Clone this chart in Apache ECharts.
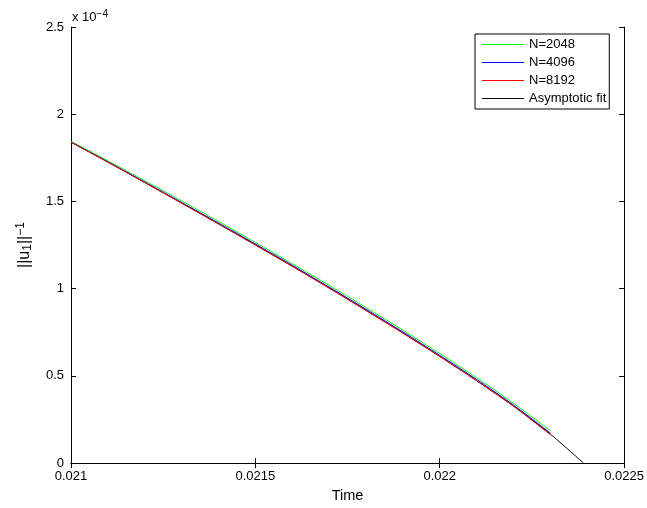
<!DOCTYPE html>
<html>
<head>
<meta charset="utf-8">
<script src="https://cdn.jsdelivr.net/npm/echarts@6/dist/echarts.min.js"></script>
<style>
  html, body { margin: 0; padding: 0; background: #fff; }
  #chart { width: 647px; height: 508px; }
</style>
</head>
<body>
<div id="chart"></div>
<script>
// Simulation times
const times = [0.0210, 0.0211, 0.0212, 0.0213, 0.0214, 0.0215, 0.0216,
               0.0217, 0.0218, 0.0219, 0.0220, 0.0221, 0.0222, 0.0223];
// ||u_1||^-1 in units of 1e-4
const n2048 = [1.845, 1.733, 1.619, 1.503, 1.385, 1.265, 1.143,
               1.019, 0.892, 0.762, 0.628, 0.489, 0.343, 0.186];
const n4096 = [1.840, 1.727, 1.611, 1.494, 1.376, 1.256, 1.134,
               1.009, 0.882, 0.752, 0.618, 0.479, 0.333, 0.172];
const n8192 = [1.840, 1.725, 1.608, 1.490, 1.371, 1.250, 1.128,
               1.003, 0.875, 0.745, 0.611, 0.472, 0.326, 0.163];
// Asymptotic fit, reaching zero at the blow-up time
const fitTimes = [0.0210, 0.0211, 0.0212, 0.0213, 0.0214, 0.0215, 0.0216,
                  0.0217, 0.0218, 0.0219, 0.0220, 0.0221, 0.0222, 0.0223, 0.02239];
const fitVals = [1.840, 1.726, 1.609, 1.491, 1.372, 1.251, 1.129,
                 1.004, 0.876, 0.746, 0.612, 0.473, 0.327, 0.166, 0.0];

const xTicks = ['0.021', '0.0215', '0.022', '0.0225'];
const yTicks = ['0', '0.5', '1', '1.5', '2', '2.5'];
const seriesNames = ['N=2048', 'N=4096', 'N=8192', 'Asymptotic fit'];
const seriesColors = ['#00ff00', '#0000ff', '#ff0000', '#000000'];

const FONT = 'Liberation Sans, Arial, Helvetica, sans-serif';
const zip = (xs, ys) => xs.map((x, i) => [x, ys[i]]);

const chart = echarts.init(document.getElementById('chart'), null, { renderer: 'canvas' });

const tickStyle = { show: true, inside: true, length: 5, lineStyle: { color: '#000', width: 1 } };
const lineAxis = { show: true, lineStyle: { color: '#000', width: 1 } };

const xCommon = {
  type: 'value', min: 0.021, max: 0.0225, interval: 0.0005,
  axisLine: lineAxis, axisTick: tickStyle, splitLine: { show: false }
};
const yCommon = {
  type: 'value', min: 0, max: 2.5, interval: 0.5,
  axisLine: lineAxis, axisTick: tickStyle, splitLine: { show: false }
};

const dataSets = [zip(times, n2048), zip(times, n4096), zip(times, n8192), zip(fitTimes, fitVals)];

chart.setOption({
  animation: false,
  backgroundColor: '#fff',
  textStyle: { fontFamily: FONT },
  grid: { left: 71, top: 27, width: 556, height: 437, containLabel: false },
  xAxis: [
    Object.assign({}, xCommon, {
      position: 'bottom',
      name: 'Time', nameLocation: 'middle', nameGap: 24,
      nameTextStyle: { fontSize: 14.5, color: '#000', fontFamily: FONT },
      axisLabel: {
        color: '#000', fontSize: 13, fontFamily: FONT, margin: 7,
        formatter: v => xTicks[Math.round((v - 0.021) / 0.0005)]
      }
    }),
    Object.assign({}, xCommon, { position: 'top', axisLabel: { show: false } })
  ],
  yAxis: [
    Object.assign({}, yCommon, {
      position: 'left',
      name: '||u{sub|1}||{sup|−1}', nameLocation: 'middle', nameGap: 37, nameRotate: 90,
      nameTextStyle: {
        fontSize: 16, color: '#000', fontFamily: FONT,
        rich: {
          sub: { fontSize: 12, verticalAlign: 'bottom', padding: [7, 0, 0, 0], color: '#000', fontFamily: FONT },
          sup: { fontSize: 12, verticalAlign: 'top', padding: [0, 0, 7, 0], color: '#000', fontFamily: FONT }
        }
      },
      axisLabel: {
        color: '#000', fontSize: 13, fontFamily: FONT, margin: 7,
        formatter: v => yTicks[Math.round(v / 0.5)]
      }
    }),
    Object.assign({}, yCommon, { position: 'right', axisLabel: { show: false } })
  ],
  legend: {
    orient: 'vertical',
    left: 475, top: 34,
    padding: [4, 3, 4, 7],
    itemGap: 5,
    itemWidth: 42, itemHeight: 13,
    backgroundColor: '#fff',
    borderColor: '#000', borderWidth: 1,
    textStyle: { fontSize: 13, color: '#000', fontFamily: FONT },
    data: seriesNames.map((n, i) => ({
      name: n,
      icon: 'path://M0,0 L42,0 L42,1 L0,1 Z',
      itemStyle: { color: seriesColors[i], borderWidth: 0 }
    }))
  },
  graphic: [{
    type: 'text', left: 72, top: 9,
    style: {
      text: 'x 10{sup|−4}',
      fontSize: 13, fontFamily: FONT, fill: '#000',
      rich: { sup: { fontSize: 10, verticalAlign: 'top', padding: [0, 0, 7, 0], fontFamily: FONT } }
    }
  }],
  series: seriesNames.map((name, i) => ({
    name, type: 'line', xAxisIndex: 0, yAxisIndex: 0,
    data: dataSets[i],
    showSymbol: false, symbol: 'none',
    smooth: 0.25,
    lineStyle: { color: seriesColors[i], width: 1 },
    itemStyle: { color: seriesColors[i] },
    z: i === 3 ? 1 : 2 + i
  }))
});
</script>
</body>
</html>
